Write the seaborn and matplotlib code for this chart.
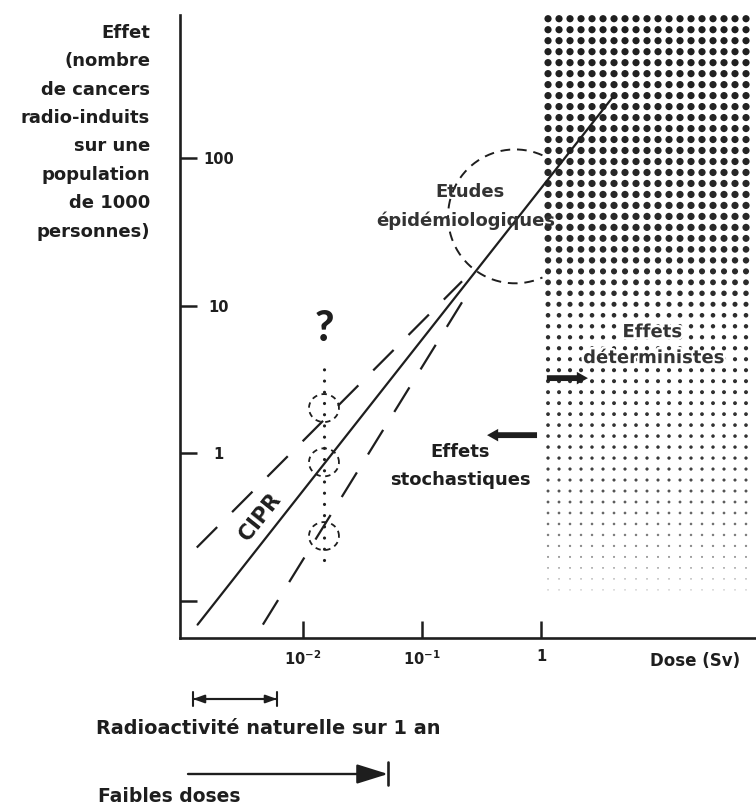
import numpy as np
import pandas as pd
import matplotlib
matplotlib.use("Agg")
import matplotlib.pyplot as plt
import matplotlib.transforms as mtransforms
from matplotlib import patheffects
import seaborn as sns

# --- dose-effect curves (dose in Sv, effect = cancers per 1000 people) ---
cipr_dose = [0.0013, 4.0]
cipr_effet = [0.069, 260.0]
supra_dose = [0.00128, 0.217]
supra_effet = [0.23, 14.7]
seuil_dose = [0.0046, 0.217]
seuil_effet = [0.069, 10.6]

# uncertainty at low dose
question_dose = 0.015
question_effets = [2.03, 0.87, 0.275]
question_range = [0.19, 3.8]
question_mark_effet = 7.0

# epidemiological studies zone: centre (dose, effect) and radii in decades
etudes_centre = (0.605, 40.5)
etudes_rayons = (0.563, 0.454)

# deterministic effects start at 1 Sv
seuil_deterministe = 1.0

x_ticks = [0.01, 0.1, 1]
x_ticklabels = [r"$\mathbf{10^{-2}}$", r"$\mathbf{10^{-1}}$", "1"]
y_ticks = [0.1, 1, 10, 100]
y_ticklabels = ["", "1", "10", "100"]
xlim = (9.25e-4, 64.1)
ylim = (0.056, 940)

# dose ranges shown under the axis
naturelle_dose = [1.19e-3, 6.04e-3]
faibles_dose = [1.08e-3, 0.0518]

INK = "#1e1e1e"

sns.set_theme(style="white")
plt.rcParams["font.family"] = ["DejaVu Sans"]
plt.rcParams["font.weight"] = "bold"
plt.rcParams["mathtext.fontset"] = "dejavusans"

fig = plt.figure(figsize=(7.56, 8.05), dpi=100)
ax = fig.add_axes([180 / 756, 167 / 805, 576 / 756, 623 / 805])
ax.set(xscale="log", yscale="log")

# halftone shading of the deterministic region
dx, dy = 11 / 119, 11 / 147.67
col_lx = np.arange(np.log10(seuil_deterministe) + 0.059, np.log10(xlim[1]), dx)
row_ly = np.arange(2.948, -0.96, -dy)
LX, LY = np.meshgrid(col_lx, row_ly)
diam = np.interp(LY, [-0.93, -0.59, -0.18, 0.36, 0.90, 1.11, 1.51, 3.0],
                 [1.4, 2.4, 3.1, 3.9, 4.4, 5.6, 7.2, 7.2])
grey = np.interp(LY, [-0.93, -0.5, 0.0, 3.0], [0.72, 0.45, 0.2, 0.12])
ax.scatter(10 ** LX.ravel(), 10 ** LY.ravel(), s=(diam.ravel() * 0.72) ** 2,
           c=[(g, g, g) for g in grey.ravel()], linewidths=0, zorder=1)

# dose-effect lines
df = pd.DataFrame({
    "dose": cipr_dose + supra_dose + seuil_dose,
    "effet": cipr_effet + supra_effet + seuil_effet,
    "courbe": ["CIPR"] * 2 + ["supralineaire"] * 2 + ["seuil"] * 2,
})
sns.lineplot(data=df, x="dose", y="effet", style="courbe",
             dashes={"CIPR": "", "supralineaire": (13, 9.5), "seuil": (13, 9.5)},
             color=INK, linewidth=1.6, estimator=None, sort=False,
             legend=False, ax=ax, zorder=3)

# epidemiological studies zone (dashed ring, hidden behind the shaded region)
t = np.linspace(0, 2 * np.pi, 400)
ex = 10 ** (np.log10(etudes_centre[0]) + etudes_rayons[0] * np.cos(t))
ey = 10 ** (np.log10(etudes_centre[1]) + etudes_rayons[1] * np.sin(t))
ex = np.where(ex > seuil_deterministe * 1.03, np.nan, ex)
ax.plot(ex, ey, color=INK, lw=1.4, dashes=(5, 3.5), zorder=2)

# question mark with the three candidate values
ax.plot([question_dose, question_dose], question_range, color=INK, lw=2.3,
        dashes=(0.01, 3.5), dash_capstyle="round", zorder=2)
for val in question_effets:
    cx = 10 ** (np.log10(question_dose) + 0.126 * np.cos(t))
    cy = 10 ** (np.log10(val) + 0.095 * np.sin(t))
    ax.plot(cx, cy, color=INK, lw=1.3, dashes=(3, 2.5), zorder=2)
ax.text(question_dose, question_mark_effet, "?", fontsize=30, fontweight="black",
        family="Lato", ha="center", va="center", color=INK)

ax.text(0.0044, 0.37, "CIPR", fontsize=15, fontweight="bold", rotation=51.5,
        ha="center", va="center", rotation_mode="anchor", color=INK)

ax.text(0.252, 58.9, "Etudes", fontsize=13, ha="center", va="center", color="#333333")
ax.text(0.2335, 38.0, "épidémiologiques", fontsize=13, ha="center", va="center",
        color="#333333", zorder=4)

halo = [patheffects.withStroke(linewidth=3.5, foreground="white")]
ax.text(8.6, 6.64, "Effets", fontsize=13, ha="center", va="center", color="#333333",
        path_effects=halo, zorder=4)
ax.text(8.8, 4.43, "déterministes", fontsize=13, ha="center", va="center",
        color="#333333", path_effects=halo, zorder=4)
ax.text(0.211, 1.02, "Effets", fontsize=13, ha="center", va="center", color=INK)
ax.text(0.211, 0.66, "stochastiques", fontsize=13, ha="center", va="center", color=INK)

fat = dict(arrowstyle="simple,head_length=0.8,head_width=0.9,tail_width=0.42",
           fc=INK, ec="none", mutation_scale=10, shrinkA=0, shrinkB=0)
ax.annotate("", xy=(2.48, 3.24), xytext=(1.12, 3.24), arrowprops=fat, zorder=5)
ax.annotate("", xy=(0.352, 1.33), xytext=(0.926, 1.33), arrowprops=fat, zorder=5)

# axes
ax.set_xlim(*xlim)
ax.set_ylim(*ylim)
ax.set_xticks(x_ticks)
ax.set_xticklabels(x_ticklabels)
ax.set_yticks(y_ticks)
ax.set_yticklabels(y_ticklabels)
ax.minorticks_off()
ax.tick_params(axis="both", which="major", direction="in", length=12, width=1.8,
               color=INK, labelsize=10.5, labelcolor=INK, bottom=True, left=True,
               top=False, right=False)
ax.tick_params(axis="x", pad=8)
ax.tick_params(axis="y", pad=-28)
for lab in ax.get_yticklabels():
    lab.set_horizontalalignment("center")
for side in ("top", "right"):
    ax.spines[side].set_visible(False)
for side in ("left", "bottom"):
    ax.spines[side].set_color(INK)
    ax.spines[side].set_linewidth(1.9)

ax.set_xlabel("Dose (Sv)", fontsize=12, fontweight="bold", color=INK, va="center")
ax.xaxis.set_label_coords((695 - 180) / 576, (638 - 661) / 623)
ax.set_ylabel("Effet\n(nombre\nde cancers\nradio-induits\nsur une\npopulation\nde 1000\npersonnes)",
              rotation=0, fontsize=13, fontweight="bold", color=INK,
              ha="right", va="top", multialignment="right", linespacing=1.74)
ax.yaxis.set_label_coords(-30 / 576, (638 - 24) / 623)

# dose ranges below the axis
below = mtransforms.blended_transform_factory(ax.transData, ax.transAxes)
ya = (638 - 699) / 623
ax.annotate("", xy=(naturelle_dose[1], ya), xytext=(naturelle_dose[0], ya),
            xycoords=below, textcoords=below, annotation_clip=False,
            arrowprops=dict(arrowstyle="<|-|>,head_length=0.55,head_width=0.2",
                            color=INK, lw=1.5, shrinkA=0, shrinkB=0))
ax.annotate("", xy=(naturelle_dose[1], ya), xytext=(naturelle_dose[0], ya),
            xycoords=below, textcoords=below, annotation_clip=False,
            arrowprops=dict(arrowstyle="|-|,widthA=0.4,widthB=0.4",
                            color=INK, lw=1.5, shrinkA=0, shrinkB=0))
fig.text(96 / 756, 1 - 728 / 805, "Radioactivité naturelle sur 1 an", fontsize=13.9,
         fontweight="bold", color=INK, ha="left", va="center")

yb = (638 - 774) / 623
ax.annotate("", xy=(faibles_dose[1], yb), xytext=(faibles_dose[0], yb),
            xycoords=below, textcoords=below, annotation_clip=False,
            arrowprops=dict(arrowstyle="-|>,head_length=1.6,head_width=0.5",
                            color=INK, lw=1.7, shrinkA=0, shrinkB=0))
ax.plot([faibles_dose[1], faibles_dose[1]], [(638 - 762) / 623, (638 - 785) / 623],
        transform=below, color=INK, lw=1.9, clip_on=False)
fig.text(98 / 756, 1 - 796 / 805, "Faibles doses", fontsize=13.5,
         fontweight="bold", color=INK, ha="left", va="center")

fig.savefig("out.png", dpi=100, facecolor="white")
